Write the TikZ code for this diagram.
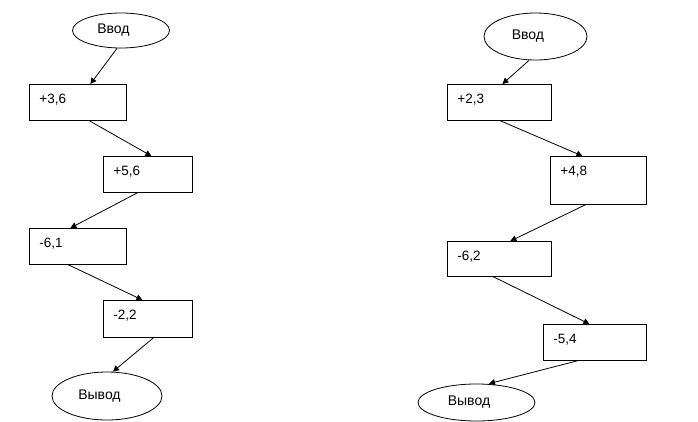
\documentclass[tikz,border=0pt]{standalone}
\usepackage{fontspec}
\setmainfont{Liberation Sans}
\usetikzlibrary{shapes.geometric,arrows.meta}

\begin{document}
\begin{tikzpicture}[x=1pt,y=-1pt,line width=0.8pt,
    val_box/.style={draw,anchor=north west,inner xsep=10pt,inner ysep=0pt,align=left,text height=19pt,font=\fontsize{13.5}{16}\selectfont},
    end_node/.style={ellipse,draw,inner sep=0pt,font=\fontsize{14}{17}\selectfont},
    to_node/.style={-{Triangle[width=6pt,length=6pt]}}]
    \useasboundingbox (0,0) rectangle (698,421);
    % left chain
    \node[end_node,minimum width=97pt,minimum height=35pt] (in_l) at (121,30.5) {Ввод\kern15pt};
    \node[val_box,text width=77pt,text depth=17pt] (b1) at (29,84) {+3,6};
    \node[val_box,text width=69pt,text depth=17pt] (b2) at (103,156) {+5,6};
    \node[val_box,text width=77pt,text depth=17pt] (b3) at (29,228) {-6,1};
    \node[val_box,text width=69pt,text depth=18pt] (b4) at (103,300) {-2,2};
    \node[end_node,minimum width=110pt,minimum height=48pt] (out_l) at (107,396) {Вывод\kern15pt};
    \draw[to_node] ([xshift=-4]in_l.south) -- ([xshift=12.5]b1.north);
    \draw[to_node] ([xshift=11.5]b1.south) -- ([xshift=3.5]b2.north);
    \draw[to_node] ([xshift=-10.5]b2.south) -- ([xshift=-7.5]b3.north);
    \draw[to_node] ([xshift=-9.5]b3.south) -- ([xshift=-5.5]b4.north);
    \draw[to_node] ([xshift=5.5]b4.south) -- ([xshift=6]out_l.north);
    % right chain
    \node[end_node,minimum width=103pt,minimum height=47pt] (in_r) at (535.5,36.5) {Ввод\kern15pt};
    \node[val_box,text width=84pt,text depth=17pt] (c1) at (447,84) {+2,3};
    \node[val_box,text width=76pt,text depth=29pt] (c2) at (550,156) {+4,8};
    \node[val_box,text width=84pt,text depth=16pt] (c3) at (447,241) {-6,2};
    \node[val_box,text width=83pt,text depth=17pt] (c4) at (543,324) {-5,4};
    \node[end_node,minimum width=117pt,minimum height=37pt] (out_r) at (476.5,402.5) {Вывод\kern15pt};
    \draw[to_node] ([xshift=-6.5]in_r.south) -- ([xshift=3]c1.north);
    \draw[to_node] ([xshift=1]c1.south) -- ([xshift=-16]c2.north);
    \draw[to_node] ([xshift=-13]c2.south) -- ([xshift=11]c3.north);
    \draw[to_node] ([xshift=-6]c3.south) -- ([xshift=-5.5]c4.north);
    \draw[to_node] ([xshift=-17.5]c4.south) -- ([xshift=12.5]out_r.north);
\end{tikzpicture}
\end{document}
